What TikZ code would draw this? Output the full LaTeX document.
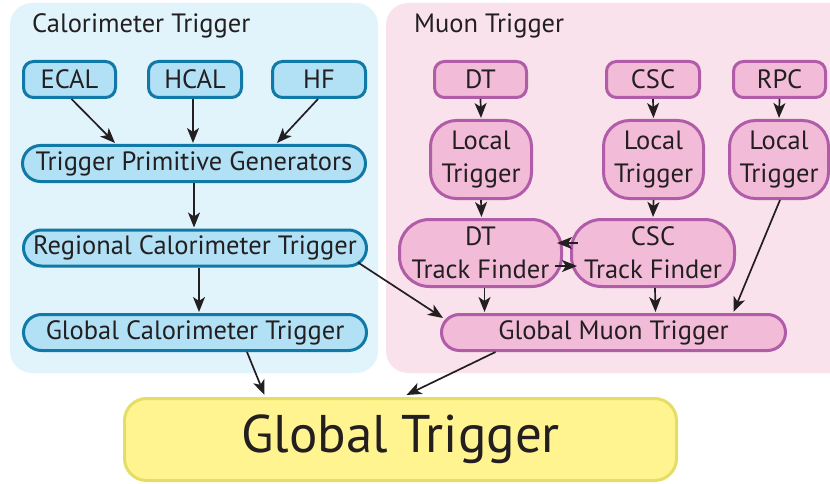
\documentclass[tikz,border=0pt]{standalone}
\usepackage{fontspec}
\setmainfont{PT Sans}
\usetikzlibrary{arrows.meta,calc}
\definecolor{calpanel}{HTML}{E1F3FB}
\definecolor{calfill}{HTML}{B2E1F6}
\definecolor{caledge}{HTML}{1079A8}
\definecolor{mupanel}{HTML}{F9E2EC}
\definecolor{mufill}{HTML}{F2BCD8}
\definecolor{muedge}{HTML}{B05CA8}
\definecolor{gtfill}{HTML}{FFF48F}
\definecolor{gtedge}{HTML}{E4DE66}
\definecolor{ink}{HTML}{231F20}
\tikzset{
  base/.style={inner sep=0pt, line width=3pt, text=ink, font=\fontsize{26.5}{33}\selectfont, align=center},
  calbox/.style={base, fill=calfill, draw=caledge, rounded corners=10pt},
  calpill/.style={base, fill=calfill, draw=caledge, rounded corners=18pt, minimum height=36pt, minimum width=343pt},
  mubox/.style={base, fill=mufill, draw=muedge, rounded corners=10pt},
  mupill/.style={base, fill=mufill, draw=muedge, rounded corners=18pt},
  arr/.style={line width=1.7pt, ink, -{Stealth[length=15pt,width=12pt,inset=4pt]}},
  title/.style={anchor=west, inner sep=0pt, text=ink, font=\fontsize{26.5}{30}\selectfont},
}
\begin{document}
\begin{tikzpicture}[x=1pt,y=-1pt]
\useasboundingbox (0,0) rectangle (830,484);
\clip (0,0) rectangle (830,484);
% background panels
\fill[calpanel, rounded corners=22pt] (10,3) rectangle (378,373);
\fill[mupanel, rounded corners=22pt] (386,3) rectangle (860,373);
\node[title] (caltitle) at (32,26) {Calorimeter Trigger};
\node[title] (mutitle) at (414,26) {Muon Trigger};

% calorimeter chain
\node[calbox, minimum width=92pt, minimum height=36pt] (ecal) at (69.5,79.5) {ECAL};
\node[calbox, minimum width=93pt, minimum height=36pt] (hcal) at (195,79.5) {HCAL};
\node[calbox, minimum width=93pt, minimum height=36pt] (hf) at (319,79.5) {HF};
\node[calpill] (tpg) at (194,163.5) {Trigger Primitive Generators};
\node[calpill] (rct) at (195,248) {Regional Calorimeter Trigger};
\node[calpill] (gct) at (195,332.5) {Global Calorimeter Trigger};

% muon chain
\node[mubox, minimum width=92pt, minimum height=36pt] (dt) at (480.5,79.5) {DT};
\node[mubox, minimum width=93pt, minimum height=36pt] (csc) at (653,79.5) {CSC};
\node[mubox, minimum width=92pt, minimum height=36pt] (rpc) at (779.5,79.5) {RPC};
\node[mubox, rounded corners=26pt, minimum width=101pt, minimum height=78pt] (ltdt) at (481,159.5) {Local\\Trigger};
\node[mubox, rounded corners=26pt, minimum width=100pt, minimum height=78pt] (ltcsc) at (653.5,159.5) {Local\\Trigger};
\node[mubox, rounded corners=26pt, minimum width=99pt, minimum height=78pt] (ltrpc) at (779,159.5) {Local\\Trigger};
\node[mubox, rounded corners=30pt, minimum width=162pt, minimum height=67pt] (dttf) at (480.5,253) {DT\\Track Finder};
\node[mubox, rounded corners=30pt, minimum width=163pt, minimum height=67pt] (csctf) at (653,253) {CSC\\Track Finder};
\node[mupill, minimum width=344pt, minimum height=36pt] (gmt) at (613.5,332.5) {Global Muon Trigger};

% global trigger
\node[base, fill=gtfill, draw=gtedge, rounded corners=22pt, minimum width=552pt, minimum height=82pt,
      font=\fontsize{53}{56}\selectfont] (gt) at (400.5,439.5) {Global Trigger};

% calorimeter connectors
\draw[arr] ([xshift=2pt]ecal.south) -- ([xshift=-79pt,yshift=1pt]tpg.north);
\draw[arr] ([xshift=-2pt]hcal.south) -- ([xshift=-1pt,yshift=1pt]tpg.north);
\draw[arr] ([xshift=-1pt]hf.south) -- ([xshift=83pt,yshift=1pt]tpg.north);
\draw[arr] (tpg.south) -- ([xshift=-1pt,yshift=1pt]rct.north);
\draw[arr] ([xshift=4pt]rct.south) -- ([xshift=4pt,yshift=1pt]gct.north);
\draw[arr] ([xshift=-10pt,yshift=5pt]rct.south east) -- ([xshift=3pt,yshift=-5pt]gmt.north west);
\draw[arr] ([xshift=52pt]gct.south) -- ([xshift=-136pt,yshift=2pt]gt.north);

% muon connectors
\draw[arr] (dt.south) -- ([yshift=1pt]ltdt.north);
\draw[arr] (csc.south) -- ([yshift=1pt]ltcsc.north);
\draw[arr] (rpc.south) -- ([yshift=1pt]ltrpc.north);
\draw[arr] (ltdt.south) -- ([xshift=1pt,yshift=1pt]dttf.north);
\draw[arr] (ltcsc.south) -- ([yshift=1pt]csctf.north);
\draw[arr] ([xshift=1pt]ltrpc.south) -- ([xshift=120pt,yshift=1pt]gmt.north);
\draw[arr] ([xshift=4pt]dttf.south) -- ([xshift=-129pt,yshift=1pt]gmt.north);
\draw[arr] ([xshift=2pt]csctf.south) -- ([xshift=42pt,yshift=1pt]gmt.north);
% exchange between the two track finders
\draw[arr] ([xshift=8pt,yshift=10pt]csctf.west) -- ([xshift=-6pt,yshift=10pt]dttf.east);
\draw[arr] ([xshift=-8pt,yshift=-13pt]dttf.east) -- ([xshift=7pt,yshift=-13pt]csctf.west);
\draw[arr] ([xshift=-118pt]gmt.south) -- ([xshift=6pt,yshift=2pt]gt.north);
\end{tikzpicture}
\end{document}
